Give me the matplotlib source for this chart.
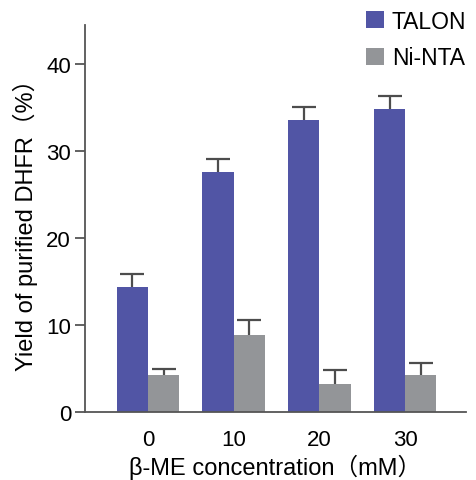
import numpy as np
import matplotlib
matplotlib.use('Agg')
import matplotlib.pyplot as plt
from matplotlib.patches import Patch

plt.rcParams['font.family'] = ['Liberation Sans', 'Noto Sans CJK JP']

# data
concentrations = ['0', '10', '20', '30']
talon = [14.4, 27.6, 33.6, 34.8]
talon_err = [1.5, 1.5, 1.5, 1.5]
ninta = [4.2, 8.8, 3.2, 4.2]
ninta_err = [0.8, 1.8, 1.6, 1.4]

talon_color = '#5155a5'
ninta_color = '#939598'
axis_color = '#555555'
err_color = '#4d4d4d'

fig = plt.figure(figsize=(4.76, 4.81), dpi=100)
ax = fig.add_axes([0.1786, 0.1414, 0.8004, 0.8046])

x = np.arange(len(concentrations))
w = 0.365
cap = 0.14


def bars_with_up_err(pos, vals, errs, color):
    vals = np.array(vals)
    errs = np.array(errs)
    ax.bar(pos, vals, w, color=color, zorder=2)
    # only upper error bars, as in the figure
    ax.vlines(pos, vals, vals + errs, color=err_color, lw=1.6, zorder=1)
    ax.hlines(vals + errs, pos - cap, pos + cap, color=err_color, lw=1.6, zorder=1)


bars_with_up_err(x - w / 2, talon, talon_err, talon_color)
bars_with_up_err(x + w / 2, ninta, ninta_err, ninta_color)

ax.set_xlim(-0.735, 3.71)
ax.set_ylim(0, 44.5)
ax.set_yticks([0, 10, 20, 30, 40])
ax.set_xticks(x)
ax.set_xticklabels(concentrations)

for side in ['top', 'right']:
    ax.spines[side].set_visible(False)
for side in ['left', 'bottom']:
    ax.spines[side].set_color(axis_color)
    ax.spines[side].set_linewidth(1.3)

ax.tick_params(axis='y', direction='out', length=7, width=1.3, color=axis_color,
               labelsize=16, pad=3)
ax.tick_params(axis='x', length=0, labelsize=16, pad=12)

ax.set_ylabel('Yield of purified DHFR（%）', fontsize=17, labelpad=6)
ax.set_xlabel('β-ME concentration（mM）', fontsize=17, labelpad=3)

handles = [Patch(facecolor=talon_color, label='TALON'),
           Patch(facecolor=ninta_color, label='Ni-NTA')]
fig.legend(handles=handles, loc='upper left', bbox_to_anchor=(0.768, 0.978),
           frameon=False, fontsize=16.5, handlelength=0.8, handleheight=0.8,
           handletextpad=0.35, labelspacing=0.6, borderaxespad=0, borderpad=0)

plt.savefig('out.png', dpi=100)
